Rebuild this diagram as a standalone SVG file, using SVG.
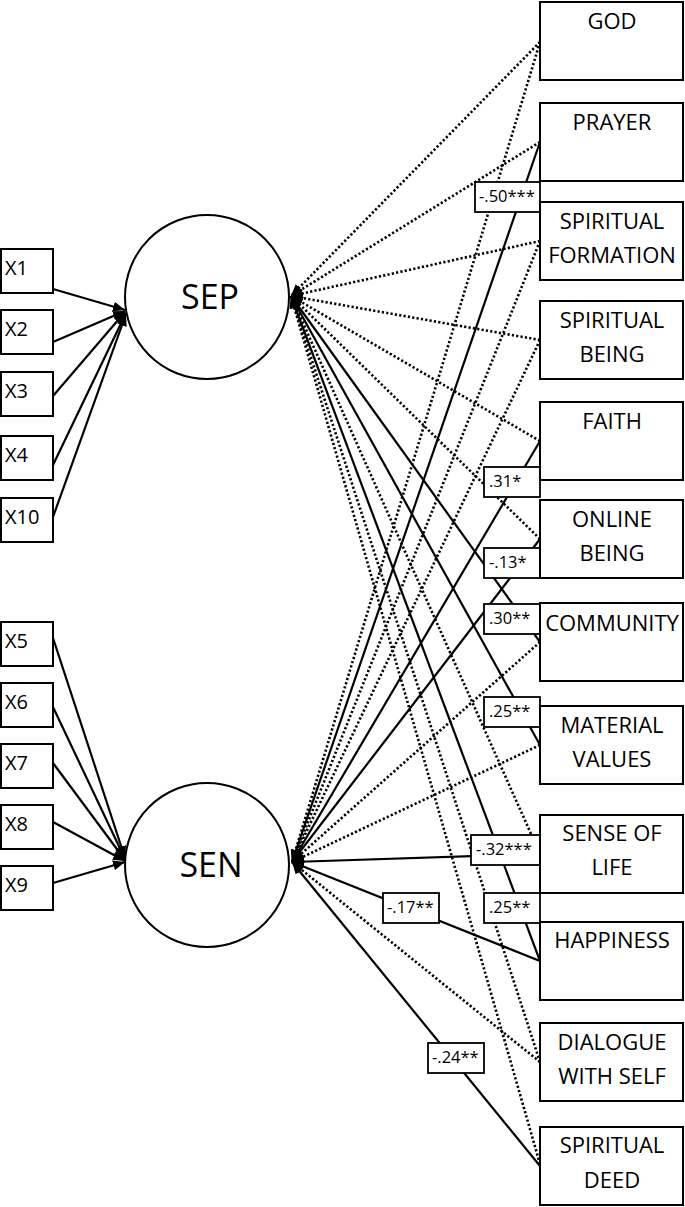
<svg xmlns="http://www.w3.org/2000/svg" width="685" height="1207" viewBox="0 0 685 1207">
<style>
.box{fill:#fff;stroke:#000;stroke-width:2}
.lbl{fill:#fff;stroke:#000;stroke-width:1.8}
.t{font-family:"Open Sans","DejaVu Sans",sans-serif;font-size:22px;fill:#000;text-anchor:middle}
.x{font-family:"Open Sans","DejaVu Sans",sans-serif;font-size:20px;fill:#000}
.lt{font-family:"Open Sans","DejaVu Sans",sans-serif;font-size:16.5px;fill:#000}
.big{font-family:"Open Sans","DejaVu Sans",sans-serif;font-size:34px;fill:#000;text-anchor:middle}
.s{stroke:#000;stroke-width:2.2;fill:none}
.d{stroke:#000;stroke-width:2.6;fill:none;stroke-dasharray:2.2 2.2}
</style>
<defs>
<marker id="ah" markerUnits="userSpaceOnUse" markerWidth="13" markerHeight="10" refX="12" refY="5" orient="auto">
<path d="M0,0 L12,5 L0,10 z" fill="#000"/>
</marker>
</defs>
<g id="connectors">
<line class="s" x1="53" y1="289" x2="125" y2="310" marker-end="url(#ah)"/>
<line class="s" x1="53" y1="342" x2="125" y2="311" marker-end="url(#ah)"/>
<line class="s" x1="53" y1="396" x2="125" y2="312" marker-end="url(#ah)"/>
<line class="s" x1="53" y1="465" x2="126" y2="313" marker-end="url(#ah)"/>
<line class="s" x1="53" y1="517" x2="126" y2="314" marker-end="url(#ah)"/>
<line class="s" x1="53" y1="638" x2="125" y2="858" marker-end="url(#ah)"/>
<line class="s" x1="53" y1="707" x2="125" y2="859" marker-end="url(#ah)"/>
<line class="s" x1="53" y1="763" x2="125" y2="860" marker-end="url(#ah)"/>
<line class="s" x1="53" y1="822" x2="125" y2="861" marker-end="url(#ah)"/>
<line class="s" x1="53" y1="883" x2="125" y2="862" marker-end="url(#ah)"/>
<line class="d" x1="540" y1="42" x2="291" y2="296" marker-end="url(#ah)"/>
<line class="d" x1="540" y1="142" x2="291" y2="296" marker-end="url(#ah)"/>
<line class="d" x1="540" y1="241" x2="291" y2="296" marker-end="url(#ah)"/>
<line class="d" x1="540" y1="340" x2="291" y2="296" marker-end="url(#ah)"/>
<line class="d" x1="540" y1="441" x2="291" y2="296" marker-end="url(#ah)"/>
<line class="d" x1="540" y1="539" x2="291" y2="296" marker-end="url(#ah)"/>
<line class="s" x1="540" y1="642" x2="291" y2="296" marker-end="url(#ah)"/>
<line class="s" x1="540" y1="745" x2="291" y2="296" marker-end="url(#ah)"/>
<line class="d" x1="540" y1="854" x2="291" y2="296" marker-end="url(#ah)"/>
<line class="s" x1="540" y1="961" x2="291" y2="296" marker-end="url(#ah)"/>
<line class="d" x1="540" y1="1062" x2="291" y2="296" marker-end="url(#ah)"/>
<line class="d" x1="540" y1="1164" x2="291" y2="296" marker-end="url(#ah)"/>
<line class="d" x1="540" y1="42" x2="292" y2="862" marker-end="url(#ah)"/>
<line class="s" x1="540" y1="142" x2="292" y2="862" marker-end="url(#ah)"/>
<line class="d" x1="540" y1="241" x2="292" y2="862" marker-end="url(#ah)"/>
<line class="d" x1="540" y1="340" x2="292" y2="862" marker-end="url(#ah)"/>
<line class="s" x1="540" y1="441" x2="292" y2="862" marker-end="url(#ah)"/>
<line class="s" x1="540" y1="539" x2="292" y2="862" marker-end="url(#ah)"/>
<line class="d" x1="540" y1="642" x2="292" y2="862" marker-end="url(#ah)"/>
<line class="d" x1="540" y1="745" x2="292" y2="862" marker-end="url(#ah)"/>
<line class="s" x1="540" y1="854" x2="292" y2="862" marker-end="url(#ah)"/>
<line class="s" x1="540" y1="961" x2="292" y2="862" marker-end="url(#ah)"/>
<line class="d" x1="540" y1="1062" x2="292" y2="862" marker-end="url(#ah)"/>
<line class="s" x1="540" y1="1166" x2="292" y2="862" marker-end="url(#ah)"/>
</g>
<g id="labels">
<rect class="lbl" x="475" y="182" width="65" height="30"/><text class="lt" x="479" y="202">-.50***</text>
<rect class="lbl" x="484" y="467" width="56" height="30"/><text class="lt" x="489" y="487">.31*</text>
<rect class="lbl" x="484" y="548" width="56" height="30"/><text class="lt" x="489" y="568">-.13*</text>
<rect class="lbl" x="484" y="604" width="56" height="30"/><text class="lt" x="489" y="624">.30**</text>
<rect class="lbl" x="484" y="697" width="56" height="30"/><text class="lt" x="489" y="717">.25**</text>
<rect class="lbl" x="471" y="835" width="69" height="30"/><text class="lt" x="476" y="855">-.32***</text>
<rect class="lbl" x="383" y="893" width="56" height="30"/><text class="lt" x="387" y="913">-.17**</text>
<rect class="lbl" x="484" y="893" width="56" height="30"/><text class="lt" x="489" y="913">.25**</text>
<rect class="lbl" x="428" y="1043" width="56" height="30"/><text class="lt" x="432" y="1063">-.24**</text>
</g>
<g id="SEP"><circle cx="207" cy="297" r="82" fill="#fff" stroke="#000" stroke-width="2"/><text class="big" x="210" y="309">SEP</text></g>
<g id="SEN"><circle cx="207" cy="865" r="82" fill="#fff" stroke="#000" stroke-width="2"/><text class="big" x="211" y="877">SEN</text></g>
<g id="X1"><rect class="box" x="1" y="249" width="52" height="44"/><text class="x" x="5" y="275">X1</text></g>
<g id="X2"><rect class="box" x="1" y="310" width="52" height="44"/><text class="x" x="5" y="336">X2</text></g>
<g id="X3"><rect class="box" x="1" y="372" width="52" height="44"/><text class="x" x="5" y="398">X3</text></g>
<g id="X4"><rect class="box" x="1" y="436" width="52" height="44"/><text class="x" x="5" y="462">X4</text></g>
<g id="X10"><rect class="box" x="1" y="498" width="52" height="44"/><text class="x" x="5" y="524">X10</text></g>
<g id="X5"><rect class="box" x="1" y="622" width="52" height="44"/><text class="x" x="5" y="648">X5</text></g>
<g id="X6"><rect class="box" x="1" y="683" width="52" height="44"/><text class="x" x="5" y="709">X6</text></g>
<g id="X7"><rect class="box" x="1" y="744" width="52" height="44"/><text class="x" x="5" y="770">X7</text></g>
<g id="X8"><rect class="box" x="1" y="805" width="52" height="44"/><text class="x" x="5" y="831">X8</text></g>
<g id="X9"><rect class="box" x="1" y="866" width="52" height="44"/><text class="x" x="5" y="892">X9</text></g>
<g id="GOD"><rect class="box" x="540" y="2" width="143" height="78"/><text class="t" x="612" y="29">GOD</text></g>
<g id="PRAYER"><rect class="box" x="540" y="103" width="143" height="78"/><text class="t" x="612" y="130">PRAYER</text></g>
<g id="SPIRITUAL_FORMATION"><rect class="box" x="540" y="202" width="143" height="78"/><text class="t" x="612" y="229">SPIRITUAL</text><text class="t" x="612" y="263">FORMATION</text></g>
<g id="SPIRITUAL_BEING"><rect class="box" x="540" y="301" width="143" height="78"/><text class="t" x="612" y="328">SPIRITUAL</text><text class="t" x="612" y="362">BEING</text></g>
<g id="FAITH"><rect class="box" x="540" y="402" width="143" height="78"/><text class="t" x="612" y="429">FAITH</text></g>
<g id="ONLINE_BEING"><rect class="box" x="540" y="500" width="143" height="78"/><text class="t" x="612" y="527">ONLINE</text><text class="t" x="612" y="561">BEING</text></g>
<g id="COMMUNITY"><rect class="box" x="540" y="603" width="143" height="78"/><text class="t" x="612" y="631">COMMUNITY</text></g>
<g id="MATERIAL_VALUES"><rect class="box" x="540" y="706" width="143" height="78"/><text class="t" x="612" y="733">MATERIAL</text><text class="t" x="612" y="767">VALUES</text></g>
<g id="SENSE_OF_LIFE"><rect class="box" x="540" y="815" width="143" height="78"/><text class="t" x="612" y="841">SENSE OF</text><text class="t" x="612" y="875">LIFE</text></g>
<g id="HAPPINESS"><rect class="box" x="540" y="922" width="143" height="78"/><text class="t" x="612" y="948">HAPPINESS</text></g>
<g id="DIALOGUE_WITH_SELF"><rect class="box" x="540" y="1023" width="143" height="78"/><text class="t" x="612" y="1050">DIALOGUE</text><text class="t" x="612" y="1084">WITH SELF</text></g>
<g id="SPIRITUAL_DEED"><rect class="box" x="540" y="1127" width="143" height="78"/><text class="t" x="612" y="1153">SPIRITUAL</text><text class="t" x="612" y="1188">DEED</text></g>
</svg>
